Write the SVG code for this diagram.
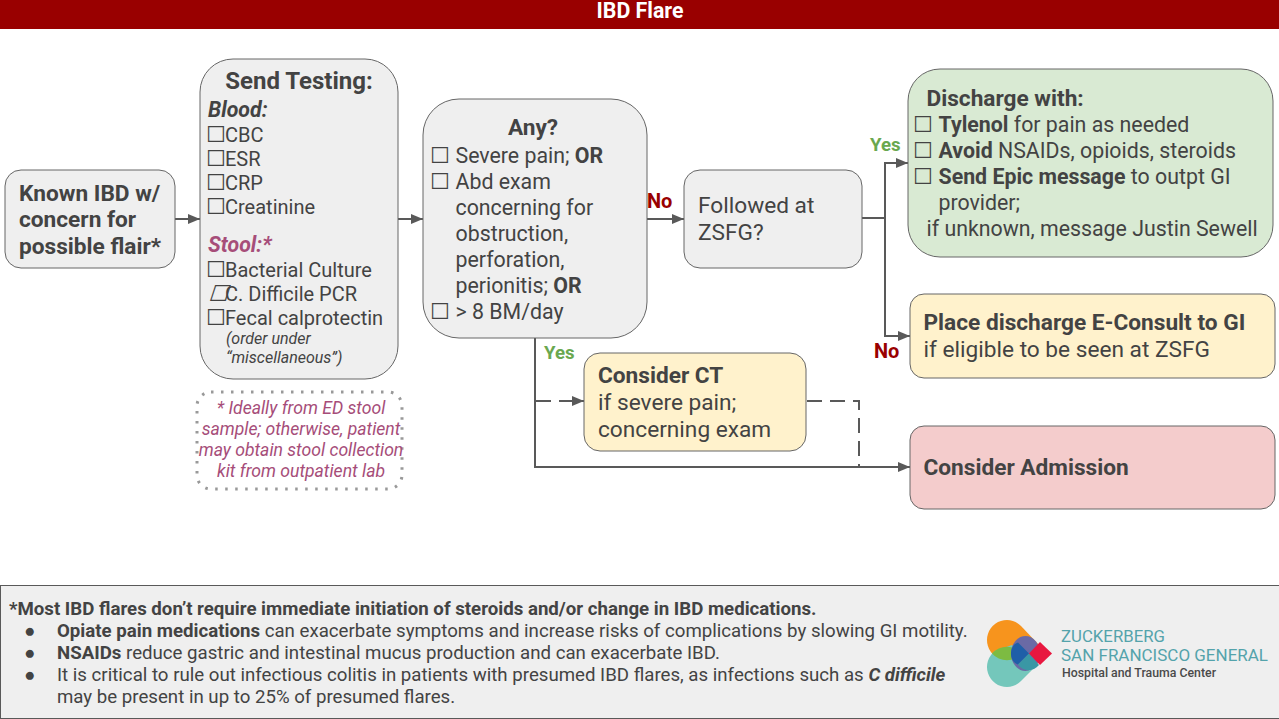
<svg xmlns="http://www.w3.org/2000/svg" width="1279" height="719" viewBox="0 0 1279 719">
<style>
text{font-family:Roboto,"Liberation Sans",sans-serif;fill:#434343;font-size:21.33px}
.b{font-weight:700}
.t20{font-size:20px}
.h{font-size:22.67px;font-weight:700}
.r{font-size:22.67px}
.big{font-size:22.67px;font-weight:700}
.st{font-size:24px;font-weight:700}
.cb{font-family:"DejaVu Sans",sans-serif;font-size:22px}
.n{stroke:#666;stroke-width:1;}
.g{fill:#efefef}
.y{fill:#fff2cc}
.c{fill:none;stroke:#595959;stroke-width:2}
.d{stroke-dasharray:15 8}
.p{fill:#a64d79;font-style:italic}
.yes{fill:#6aa84f;font-weight:700;font-size:18.67px}
.no{fill:#990000;font-weight:700;font-size:20px}
.f{font-size:18.67px}
</style>
<defs><marker id="a" markerUnits="userSpaceOnUse" markerWidth="13" markerHeight="10" refX="12" refY="5" orient="auto"><path d="M0 0L12 5L0 10Z" fill="#595959"/></marker></defs>
<rect width="1279" height="719" fill="#fff"/>
<g id="header"><rect width="1279" height="29" fill="#990000"/><text x="640" y="18" text-anchor="middle" class="b" style="fill:#fff;font-size:21.33px">IBD Flare</text></g>
<g id="connectors">
<path class="c" marker-end="url(#a)" d="M175 219H200"/>
<path class="c" marker-end="url(#a)" d="M398 219H423"/>
<path class="c" marker-end="url(#a)" d="M647 219H684"/>
<path class="c" marker-end="url(#a)" d="M862 218H885V163H908"/>
<path class="c" marker-end="url(#a)" d="M885 218V336H910"/>
<path class="c" marker-end="url(#a)" d="M535 338V467H910"/>
<path class="c d" marker-end="url(#a)" d="M536 401H584"/>
<path class="c d" d="M807 401H859V467H885"/>
</g>
<g id="known"><rect class="n g" x="5" y="170" width="170" height="98" rx="16"/>
<text class="big"><tspan x="19" y="201">Known IBD w/</tspan><tspan x="19" y="227">concern for</tspan><tspan x="19" y="254">possible flair*</tspan></text></g>
<g id="testing"><rect class="n g" x="200" y="59" width="198" height="320" rx="33"/>
<text x="299" y="89" text-anchor="middle" class="st">Send Testing:</text>
<text x="208" y="117" class="b" font-style="italic">Blood:</text>
<text class="cb" x="206" y="142">☐</text><text class="t20" x="225" y="142">CBC</text>
<text class="cb" x="206" y="166">☐</text><text class="t20" x="225" y="166">ESR</text>
<text class="cb" x="206" y="190">☐</text><text class="t20" x="225" y="190">CRP</text>
<text class="cb" x="206" y="214">☐</text><text class="t20" x="225" y="214">Creatinine</text>
<text x="208" y="252" class="b" font-style="italic" style="fill:#a64d79">Stool:*</text>
<text class="cb" x="206" y="277">☐</text><text class="t20" x="225" y="277">Bacterial Culture</text>
<text class="cb" transform="translate(208 301) skewX(-18)">☐</text><text class="t20" x="225" y="301">C. Difficile PCR</text>
<text class="cb" x="206" y="325">☐</text><text class="t20" x="225" y="325">Fecal calprotectin</text>
<text style="font-size:16px" font-style="italic"><tspan x="226" y="344">(order under</tspan><tspan x="226" y="363">“miscellaneous”)</tspan></text></g>
<g id="note"><rect x="197" y="392" width="205" height="97" rx="14" fill="none" stroke="#999" stroke-width="3" stroke-dasharray="2.5 7.5"/>
<text class="p" text-anchor="middle" style="font-size:17.6px"><tspan x="301" y="414">* Ideally from ED stool</tspan><tspan x="301" y="435">sample; otherwise, patient</tspan><tspan x="301" y="456">may obtain stool collection</tspan><tspan x="301" y="477">kit from outpatient lab</tspan></text></g>
<g id="any"><rect class="n g" x="423" y="99" width="224" height="239" rx="36"/>
<text x="533" y="135" text-anchor="middle" class="h">Any?</text>
<text class="cb" x="430" y="163">☐</text><text x="455.5" y="163">Severe pain; <tspan class="b">OR</tspan></text>
<text class="cb" x="430" y="189">☐</text><text><tspan x="455.5" y="189">Abd exam</tspan><tspan x="455.5" y="215">concerning for</tspan><tspan x="455.5" y="241">obstruction,</tspan><tspan x="455.5" y="267">perforation,</tspan><tspan x="455.5" y="293">perionitis; <tspan class="b">OR</tspan></tspan></text>
<text class="cb" x="430" y="319">☐</text><text x="455.5" y="319">&gt; 8 BM/day</text></g>
<g id="followed"><rect class="n g" x="684" y="170" width="178" height="98" rx="16"/>
<text class="r"><tspan x="698" y="213">Followed at</tspan><tspan x="698" y="240">ZSFG?</tspan></text></g>
<g id="discharge"><rect class="n" fill="#d9ead3" x="908" y="69" width="365" height="188" rx="32"/>
<text x="926.5" y="106" class="h">Discharge with:</text>
<text class="cb" x="913" y="132">☐</text><text x="938.5" y="132"><tspan class="b">Tylenol</tspan> for pain as needed</text>
<text class="cb" x="913" y="158">☐</text><text x="938.5" y="158"><tspan class="b">Avoid</tspan> NSAIDs, opioids, steroids</text>
<text class="cb b" x="913" y="184">☐</text><text x="938.5" y="184"><tspan class="b">Send Epic message</tspan> to outpt GI</text>
<text x="938.5" y="210">provider;</text>
<text x="926.5" y="236">if unknown, message Justin Sewell</text></g>
<g id="econsult"><rect class="n y" x="910" y="294" width="365" height="84" rx="14"/>
<text x="923.5" y="330" class="h">Place discharge E-Consult to GI</text>
<text x="923.5" y="357" class="r">if eligible to be seen at ZSFG</text></g>
<g id="ct"><rect class="n y" x="584" y="353" width="222" height="98" rx="16"/>
<text x="598" y="383" class="h">Consider CT</text>
<text class="r"><tspan x="598" y="410">if severe pain;</tspan><tspan x="598" y="437">concerning exam</tspan></text></g>
<g id="admission"><rect class="n" fill="#f4cccc" x="910" y="426" width="365" height="83" rx="14"/>
<text x="923.5" y="475" class="h">Consider Admission</text></g>
<g id="labels"><text class="no" x="647" y="208">No</text><text class="yes" x="870" y="151">Yes</text><text class="no" x="874" y="358">No</text><text class="yes" x="544" y="359">Yes</text></g>
<g id="footer"><rect x="0.5" y="585.5" width="1279" height="133" fill="#efefef" stroke="#595959"/>
<text class="f b" x="9" y="615">*Most IBD flares don’t require immediate initiation of steroids and/or change in IBD medications.</text>
<text class="f"><tspan x="24" y="637">●</tspan><tspan x="57" y="637"><tspan class="b">Opiate pain medications</tspan> can exacerbate symptoms and increase risks of complications by slowing GI motility.</tspan>
<tspan x="24" y="659">●</tspan><tspan x="57" y="659"><tspan class="b">NSAIDs</tspan> reduce gastric and intestinal mucus production and can exacerbate IBD.</tspan>
<tspan x="24" y="681">●</tspan><tspan x="57" y="681">It is critical to rule out infectious colitis in patients with presumed IBD flares, as infections such as <tspan class="b" font-style="italic">C difficile</tspan></tspan>
<tspan x="57" y="703">may be present in up to 25% of presumed flares.</tspan></text></g>
<g id="logo">
<path d="M1007 620A20 20 0 0 0 995 656L1012 662L1040 646L1021 626A20 20 0 0 0 1007 620Z" fill="#f7941d"/>
<path d="M1007 687A20 20 0 0 1 995 651L1012 645L1038 664L1021 681A20 20 0 0 1 1007 687Z" fill="#74c7bb"/>
<path d="M992 653.500A20 20 0 0 1 1022 653.500A20 20 0 0 1 992 653.500Z" fill="#7dbb42"/>
<ellipse cx="1025.500" cy="653.500" rx="14.500" ry="17.500" fill="#6a6aa5"/>
<path d="M1029 653.500L1018 642.500C1013 644 1011 649 1011 653.500C1011 658 1013 663 1018 664.500Z" fill="#1f5fa8"/>
<path d="M1029 653.500L1018 664.500C1023 672 1033 672 1039 665Z" fill="#3a97a5"/>
<path d="M1040 642L1052 653.500L1040 665L1029 653.500Z" fill="#e8173f"/>
<text x="1061" y="642" style="fill:#54a3ab;font-size:17px" textLength="104" lengthAdjust="spacingAndGlyphs">ZUCKERBERG</text>
<text x="1061" y="661" style="fill:#54a3ab;font-size:17px" textLength="207" lengthAdjust="spacingAndGlyphs">SAN FRANCISCO GENERAL</text>
<text x="1062" y="677" style="fill:#4a4a4a;font-size:13.500px;font-weight:500" textLength="154" lengthAdjust="spacingAndGlyphs">Hospital and Trauma Center</text>
</g>
</svg>
